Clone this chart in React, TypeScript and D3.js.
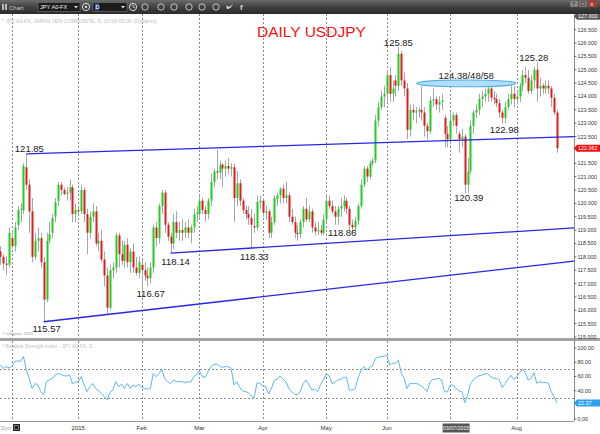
import React from "react";
import * as d3 from "d3";

// ---------- data ----------
const FIRST_DAY = "2014-11-25";
const LAST_DAY = "2015-08-21";

const open = [
  118.2, 118.0, 117.75, 117.7,
  118.7, 118.4, 119.2, 119.75, 119.75, 121.35, 120.7, 119.7, 118.0, 118.6, 118.7, 117.8, 116.4, 118.6, 118.9, 119.5, 120.1, 120.7, 120.5, 120.35, 120.4, 120.6, 119.6,
  119.75, 119.7, 120.5, 119.6, 118.9, 119.5, 119.7, 118.5, 118.6, 117.9, 117.3, 116.1, 117.5, 117.6, 118.8, 118.1, 117.85, 118.45, 117.8, 118.2, 117.6, 117.4,
  117.7, 117.5, 117.3, 117.2, 117.6, 119.1, 118.7, 119.9, 120.4, 119.2, 118.75, 118.5, 119.3, 118.9, 119.0, 118.9, 119.1, 118.9, 119.1, 119.6,
  119.6, 120.1, 119.75, 119.6, 120.1, 120.8, 121.2, 121.15, 121.45, 121.3, 121.4, 121.3, 121.35, 120.2, 120.75, 120.1, 119.75, 119.6, 119.45, 119.15, 119.1, 120.05,
  120.1, 119.65, 119.7, 118.9, 119.3, 120.15, 120.3, 120.55, 120.2, 120.3, 119.5, 119.3, 118.9, 118.85, 119.3, 119.8, 119.4, 119.7, 119.1, 118.95, 119.0, 118.9,
  119.4, 120.1, 119.9, 119.7, 119.5, 119.8, 119.9, 120.1, 119.8, 119.2, 119.1, 119.35, 119.9, 120.7, 121.3, 121.0, 121.5, 121.6, 123.1, 123.6, 124.0,
  124.1, 124.8, 124.1, 124.6, 124.4, 125.6, 124.6, 124.3, 122.75, 123.5, 123.4, 123.45, 123.5, 123.4, 122.9, 122.7, 123.85, 123.9, 123.7, 123.8, 123.2, 122.6,
  122.4, 123.1, 123.3, 122.6, 122.4, 122.5, 120.7, 121.2, 122.9, 123.4, 123.5, 123.9, 124.0, 124.1, 124.3, 123.95, 123.9, 123.75, 123.4, 123.2, 123.6, 123.9, 124.1,
  123.9, 124.0, 124.4, 124.8, 124.7, 124.2, 124.6, 125.0, 124.3, 124.4, 124.3, 124.4, 124.3, 123.95, 123.4,
];
const high = [
  118.4, 118.1, 118.0, 119.1,
  119.0, 119.3, 119.9, 120.0, 121.5, 121.85, 120.9, 120.2, 118.9, 119.1, 118.9, 118.0, 118.9, 119.3, 119.6, 120.2, 120.8, 120.8, 120.6, 120.6, 120.9, 120.7, 120.0,
  119.9, 120.7, 120.6, 119.8, 119.7, 120.0, 119.9, 118.9, 119.0, 118.2, 117.6, 117.7, 117.8, 118.9, 118.9, 118.6, 118.6, 118.7, 118.3, 118.5, 118.0, 118.0,
  117.9, 117.8, 117.6, 117.8, 119.2, 119.3, 120.0, 120.5, 120.5, 119.3, 118.9, 119.6, 119.7, 119.3, 119.4, 119.3, 119.4, 119.2, 119.8, 119.9,
  120.3, 120.2, 119.9, 120.2, 121.1, 121.3, 122.0, 121.6, 121.5, 121.6, 121.7, 121.5, 121.5, 121.2, 120.9, 120.2, 119.9, 119.9, 119.8, 119.6, 120.3, 120.3,
  120.2, 119.9, 119.8, 119.5, 120.3, 120.4, 120.6, 120.7, 120.8, 120.4, 119.8, 119.5, 119.2, 119.4, 119.9, 120.2, 119.9, 119.8, 119.3, 119.3, 119.2, 119.6,
  120.3, 120.3, 120.1, 119.9, 119.9, 120.2, 120.3, 120.2, 119.9, 119.4, 119.5, 120.0, 120.9, 121.4, 121.4, 121.6, 121.7, 123.3, 123.8, 124.2, 124.4,
  125.0, 125.1, 124.6, 124.8, 125.85, 125.7, 124.9, 124.5, 123.7, 123.7, 123.6, 123.6, 124.38, 123.6, 123.0, 124.0, 124.3, 124.0, 124.0, 124.1, 123.3, 122.9,
  123.4, 123.4, 123.4, 122.7, 122.8, 122.6, 121.7, 123.1, 123.5, 123.7, 124.1, 124.2, 124.3, 124.48, 124.4, 124.2, 124.1, 123.9, 123.5, 123.8, 124.1, 124.58, 124.4,
  124.2, 124.5, 125.0, 125.1, 125.0, 124.8, 125.1, 125.28, 124.7, 124.5, 124.6, 124.6, 124.4, 124.1, 123.5,
];
const low = [
  117.7, 117.5, 117.3, 117.6,
  118.3, 118.2, 119.0, 119.3, 119.6, 120.5, 118.9, 117.8, 117.9, 118.2, 117.6, 115.57, 116.3, 118.5, 118.7, 119.3, 119.9, 120.3, 120.3, 120.1, 120.1, 119.3, 119.3,
  119.6, 119.6, 119.3, 118.1, 118.7, 119.3, 118.4, 118.2, 117.8, 116.9, 115.85, 116.0, 117.2, 117.4, 117.6, 117.7, 117.6, 117.6, 117.4, 117.4, 117.3, 117.2,
  116.67, 117.1, 116.9, 117.0, 117.4, 118.4, 118.5, 119.6, 118.9, 118.6, 118.14, 118.3, 118.7, 118.6, 118.6, 118.7, 118.7, 118.5, 118.9, 119.3,
  119.4, 119.6, 119.3, 119.4, 119.9, 120.6, 120.9, 120.9, 120.6, 121.0, 121.1, 121.0, 119.3, 119.9, 119.9, 119.6, 119.4, 119.2, 118.33, 118.9, 119.0, 119.8,
  119.5, 119.4, 118.7, 118.7, 119.2, 119.9, 120.0, 120.0, 120.0, 119.3, 119.2, 118.7, 118.6, 118.7, 119.1, 119.3, 119.3, 118.9, 118.8, 118.8, 118.8, 118.8,
  119.3, 119.8, 119.6, 119.2, 119.2, 119.5, 119.7, 119.6, 119.0, 118.86, 118.9, 119.2, 119.8, 120.6, 120.8, 120.9, 121.4, 121.5, 122.9, 123.5, 123.6,
  123.8, 123.8, 123.8, 124.0, 124.2, 124.4, 124.0, 122.4, 122.5, 123.1, 123.0, 123.2, 123.1, 122.5, 122.4, 122.6, 123.6, 123.5, 123.4, 123.5, 122.1, 122.1,
  122.2, 122.9, 122.6, 121.9, 122.1, 120.39, 120.4, 121.1, 122.6, 123.2, 123.3, 123.6, 123.8, 123.8, 123.8, 123.7, 123.6, 123.2, 122.98, 123.0, 123.5, 123.7, 123.6,
  123.7, 123.8, 124.2, 124.5, 124.1, 124.1, 124.3, 123.8, 124.0, 124.1, 124.1, 124.1, 123.6, 123.3, 121.9,
];
const close = [
  118.0, 117.75, 117.7, 118.9,
  118.4, 119.1, 119.75, 119.8, 121.4, 120.7, 119.7, 118.0, 118.6, 118.7, 117.8, 116.4, 118.6, 118.85, 119.45, 120.05, 120.7, 120.5, 120.35, 120.4, 120.6, 119.6, 119.75,
  119.7, 120.5, 119.6, 118.9, 119.5, 119.7, 118.5, 118.6, 117.9, 117.3, 116.1, 117.5, 117.6, 118.8, 118.1, 117.85, 118.45, 117.8, 118.2, 117.6, 117.4, 117.8,
  117.5, 117.3, 117.2, 117.6, 119.1, 118.7, 119.9, 120.4, 119.2, 118.75, 118.5, 119.3, 118.9, 119.0, 118.9, 119.1, 118.9, 119.1, 119.6, 119.65,
  120.1, 119.75, 119.6, 120.1, 120.8, 121.2, 121.15, 121.45, 121.3, 121.4, 121.3, 121.35, 120.2, 120.75, 120.1, 119.75, 119.6, 119.45, 119.2, 119.1, 120.05, 120.1,
  119.65, 119.7, 118.9, 119.3, 120.2, 120.3, 120.55, 120.2, 120.3, 119.5, 119.3, 118.9, 118.85, 119.3, 119.8, 119.4, 119.7, 119.1, 118.95, 119.0, 118.9, 119.4,
  120.1, 119.9, 119.7, 119.5, 119.8, 119.9, 120.1, 119.8, 119.2, 119.1, 119.35, 119.9, 120.7, 121.3, 121.0, 121.5, 121.6, 123.1, 123.6, 124.0, 124.1,
  124.8, 124.1, 124.3, 124.4, 125.6, 124.6, 124.3, 122.75, 123.5, 123.4, 123.45, 123.5, 123.4, 122.9, 122.7, 123.85, 123.9, 123.7, 123.8, 123.85, 122.6, 122.4,
  123.1, 123.3, 122.9, 122.4, 122.5, 120.7, 121.2, 122.9, 123.4, 123.5, 123.9, 124.0, 124.1, 124.3, 123.95, 123.9, 123.75, 123.4, 123.2, 123.6, 123.9, 124.1, 123.9,
  124.0, 124.4, 124.8, 124.7, 124.2, 124.6, 125.0, 124.3, 124.4, 124.3, 124.4, 124.3, 123.95, 123.4, 122.062,
];
const rsi = [
  76, 71, 74, 72, 74, 81, 82, 81, 88, 69,
  57, 43, 50, 48, 38.5, 34, 53, 55, 57, 62,
  64, 63, 61, 60.5, 62, 50, 51.6, 52.6, 59.6, 48,
  38.5, 45.5, 50, 43, 40, 36, 32, 27, 37.6, 41,
  52.6, 45.5, 49, 43, 50, 43, 48, 45.5, 49, 44.6,
  43, 42, 43, 64, 59.6, 64, 70, 57, 52.6, 50,
  55, 52.6, 52.6, 52.6, 51, 52.6, 51.6, 59.6, 62, 68,
  59.6, 58.7, 66.7, 73.7, 76.5, 77.5, 74.6, 72.8, 73.7, 73.7,
  71.4, 48, 52.6, 44.6, 39.4, 38.5, 37.1, 32.4, 30, 51,
  50, 46.5, 45.5, 35.2, 43, 55, 55.9, 60.6, 55.9, 52.6,
  43, 38.5, 35.2, 33.8, 39, 50, 55, 48, 41, 42,
  38.5, 48, 55, 64, 60.6, 50, 51.6, 55, 56, 58.7,
  58.7, 40.8, 40.8, 42.7, 57.3, 68, 73.7, 69, 72.8, 74.6,
  85.4, 86.9, 87.8, 88.7, 89.7, 76, 78.4, 78.4, 83, 64.3,
  57, 43, 50, 49.8, 50, 49, 46.5, 43, 38.5, 52.6,
  55.9, 56.3, 57.3, 55, 38.5, 38, 47.9, 47.9, 43, 39.4,
  38.5, 23, 33.8, 50, 55, 58.7, 61, 62, 63.4, 64.3,
  59.6, 57.3, 57.3, 54.9, 44.6, 50, 55.9, 61.5, 55.9, 58.7,
  65.3, 70, 65.3, 54.9, 57.3, 65.3, 50.2, 52.6, 51.2, 51.6,
  50.2, 38.5, 31.5, 22.37,
];

const priceTicks = [115, 115.5, 116, 116.5, 117, 117.5, 118, 118.5, 119, 119.5, 120, 120.5, 121, 121.5, 122, 122.5, 123, 123.5, 124, 124.5, 125, 125.5, 126, 126.5];
const topPrice = 127;
const rsiTicks = [0, 20, 40, 60, 80, 100];
const rsiBands = [30, 70];
const lastPrice = 122.062;
const lastRsi = 22.37;
const cursorDay = "2015-07-03";
const cursorText = "03/07/2015";

const trendFromDay = ["2014-12-08", "2015-02-16", "2014-12-16"];
const trendFromPrice = [121.85, 118.14, 115.57];
const trendEdgePrice = [122.5, 119.08, 117.84];

const noteDay = ["2014-12-08", "2014-12-16", "2015-02-02", "2015-02-16", "2015-03-26", "2015-05-14", "2015-06-05", "2015-07-08", "2015-07-27", "2015-08-12"];
const notePrice = [121.85, 115.57, 116.67, 118.14, 118.33, 118.86, 125.85, 120.39, 122.98, 125.28];
const noteText = ["121.85", "115.57", "116.67", "118.14", "118.33", "118.86", "125.85", "120.39", "122.98", "125.28"];
// layout offsets (px) of each note relative to its anchor
const noteDx = [3, 3, 9, 5, 3, -10, 0, 4, 2, -3];
const noteDy = [-2, 10, 5, 12, 12, 2, -1, 8, 9, -1];

const zoneFrom = "2015-06-17";
const zoneTo = "2015-07-30";
const zonePrice = 124.49;
const zoneText = "124.38/48/58";
const title = "DAILY USDJPY";

// ---------- layout ----------
const W = 600;
const H = 434;
const AXIS_X = 574;
const MAIN_TOP = 14;
const MAIN_BOTTOM = 338;
const RSI_TOP = 341;
const RSI_BOTTOM = 421;
const FONT = "'Liberation Sans', Arial, Helvetica, sans-serif";
const UP = "#1ccf1c";
const DOWN = "#e01b1b";
const WICK = "#a6a6a6";
const BLUE = "#2626e6";

const parse = d3.timeParse("%Y-%m-%d");

function Toolbar() {
  const icons = [145, 161, 174, 189, 202, 216];
  return (
    <g>
      <defs>
        <linearGradient id="tb" x1="0" y1="0" x2="0" y2="1">
          <stop offset="0" stopColor="#6b6b6b" />
          <stop offset="0.5" stopColor="#404040" />
          <stop offset="1" stopColor="#2b2b2b" />
        </linearGradient>
      </defs>
      <rect x={0} y={0} width={W} height={MAIN_TOP} fill="url(#tb)" />
      <rect x={2} y={4} width={2} height={6} fill="#bbb" />
      <rect x={5} y={4} width={2} height={6} fill="#bbb" />
      <text x={9} y={9.5} fontSize={6} fill="#d0d0d0" fontFamily={FONT}>Chart</text>
      <rect x={38} y={2.5} width={42} height={9} fill="#1c1c1c" stroke="#777" strokeWidth={0.6} />
      <text x={40} y={9.3} fontSize={5.6} fill="#f2f2f2" fontFamily={FONT}>JPY A0-FX</text>
      <path d="M74,6 L78,6 L76,8.5 Z" fill="#ddd" />
      <circle cx={86} cy={7} r={3.6} fill="none" stroke="#ddd" strokeWidth={1} />
      <circle cx={86} cy={7} r={1.2} fill="#ddd" />
      <rect x={93} y={2.5} width={34} height={9} fill="#1c1c1c" stroke="#777" strokeWidth={0.6} />
      <rect x={95} y={3.5} width={4} height={7} fill="#2c5a9c" />
      <text x={95.5} y={9.3} fontSize={5.6} fill="#fff" fontFamily={FONT}>D</text>
      <path d="M121,6 L125,6 L123,8.5 Z" fill="#ddd" />
      <circle cx={133} cy={7} r={3.6} fill="none" stroke="#ddd" strokeWidth={1} />
      <path d="M133,4.8 L133,7 L135,7.8" stroke="#ddd" fill="none" strokeWidth={0.8} />
      {icons.map((cx, k) => (
        <circle key={k} cx={cx} cy={7} r={3.2} fill="none" stroke="#cfcfcf" strokeWidth={0.9} />
      ))}
      <path d="M226,5 Q229,9 233,4 Q231,9 227,9 Z" fill="#d8d8d8" />
      <text x={240} y={10} fontSize={8} fontWeight="bold" fill="#d8d8d8" fontFamily={FONT}>f</text>
      <rect x={570} y={0.5} width={8} height={6.5} fill="#8a8a8a" stroke="#555" strokeWidth={0.5} />
      <text x={572.3} y={5.9} fontSize={5} fill="#222" fontFamily={FONT}>?</text>
      <rect x={579} y={0.5} width={8} height={6.5} fill="#8a8a8a" stroke="#555" strokeWidth={0.5} />
      <rect x={581} y={2} width={4} height={3.5} fill="none" stroke="#222" strokeWidth={0.6} />
      <rect x={588} y={0.5} width={9} height={6.5} fill="#b03a2e" stroke="#555" strokeWidth={0.5} />
      <text x={590.5} y={5.9} fontSize={5.5} fill="#fff" fontFamily={FONT}>x</text>
    </g>
  );
}

export default function App() {
  const days = d3
    .timeDay.range(parse(FIRST_DAY) as Date, d3.timeDay.offset(parse(LAST_DAY) as Date, 1))
    .filter((d) => d.getDay() % 6 !== 0);
  const idxOf = (s: string) => {
    const t = +(parse(s) as Date);
    return days.findIndex((d) => +d === t);
  };

  const x = d3.scaleLinear().domain([0, days.length - 1]).range([0.4, 557]);
  const y = d3.scaleLinear().domain([115, 126]).range([337, 43]);
  const yr = d3.scaleLinear().domain([0, 100]).range([419, 348]);

  const monthIdx = days
    .map((d, i) => (i > 0 && d.getMonth() !== days[i - 1].getMonth() ? i : -1))
    .filter((i) => i >= 0);
  const monthLabel = (d: Date) => (d.getMonth() === 0 ? d3.timeFormat("%Y")(d) : d3.timeFormat("%b")(d));
  const cursorDate = parse(cursorDay) as Date;

  const rsiLine = d3
    .line<number>()
    .x((_, i) => x(i))
    .y((v) => yr(v));

  const f3 = d3.format(".3f");
  const f2 = d3.format(".2f");

  const zoneA = x(idxOf(zoneFrom));
  const zoneB = x(idxOf(zoneTo));
  const cursorX = x(idxOf(cursorDay));

  // axis labels hidden under the value markers
  const shownPriceTicks = priceTicks.filter((v) => Math.abs(y(v) - y(lastPrice)) > 6);
  const shownRsiTicks = rsiTicks.filter((v) => Math.abs(yr(v) - yr(lastRsi)) > 6);

  const marker = (cy: number) =>
    `M${AXIS_X},${cy} L${AXIS_X + 3},${cy - 3.5} L${W},${cy - 3.5} L${W},${cy + 3.5} L${AXIS_X + 3},${cy + 3.5} Z`;

  return (
    <svg
      width={W}
      height={H}
      viewBox={`0 0 ${W} ${H}`}
      style={{ position: "absolute", left: 0, top: 0, display: "block", background: "#fff" }}
      fontFamily={FONT}
    >
      <rect x={0} y={0} width={W} height={H} fill="#fff" />

      {/* month grid lines */}
      {monthIdx.map((i) => {
        const gx = Math.round(x(i)) + 0.5;
        return (
          <g key={"g" + i}>
            <line x1={gx} x2={gx} y1={MAIN_TOP} y2={MAIN_BOTTOM} stroke="#8c8c8c" strokeDasharray="2,2" />
            <line x1={gx} x2={gx} y1={RSI_TOP} y2={RSI_BOTTOM} stroke="#8c8c8c" strokeDasharray="2,2" />
          </g>
        );
      })}

      {/* header texts */}
      <text x={2} y={22.5} fontSize={5.2} fill="#bdbdbd">* JPY A0-FX, JAPAN YEN COMPOSITE, D, 00:00-00:00 (Dynamic)</text>
      <text x={257} y={37} fontSize={15.5} fill="#ff1010">{title}</text>

      {/* candles */}
      {days.map((_, i) => {
        const cx = Math.round(x(i));
        const o = open[i];
        const c = close[i];
        const top = y(Math.max(o, c));
        const bot = y(Math.min(o, c));
        return (
          <g key={"c" + i}>
            <line x1={cx + 0.5} x2={cx + 0.5} y1={y(high[i])} y2={y(low[i])} stroke={WICK} strokeWidth={1} />
            <rect x={cx - 0.5} y={top} width={2} height={Math.max(1, bot - top)} fill={c >= o ? UP : DOWN} />
          </g>
        );
      })}

      {/* trend lines */}
      {trendFromDay.map((d, k) => (
        <line
          key={"t" + k}
          x1={x(idxOf(d))}
          y1={y(trendFromPrice[k])}
          x2={AXIS_X}
          y2={y(trendEdgePrice[k])}
          stroke={BLUE}
          strokeWidth={1.3}
        />
      ))}

      {/* resistance zone */}
      <ellipse
        cx={(zoneA + zoneB) / 2}
        cy={y(zonePrice)}
        rx={(zoneB - zoneA) / 2 + 5}
        ry={3.4}
        fill="#b3defa"
        stroke="#4eaee8"
        strokeWidth={1.1}
      />
      <text x={(zoneA + zoneB) / 2} y={y(zonePrice) - 4.5} fontSize={9.5} fill="#1a1a1a" textAnchor="middle">
        {zoneText}
      </text>

      {/* notes */}
      {noteDay.map((d, k) => (
        <text
          key={"n" + k}
          x={x(idxOf(d)) + noteDx[k]}
          y={y(notePrice[k]) + noteDy[k]}
          fontSize={9.5}
          fill="#1a1a1a"
          textAnchor="middle"
        >
          {noteText[k]}
        </text>
      ))}

      <text x={2} y={335} fontSize={4.4} fill="#9a9a9a">© eSignal, 2015</text>

      {/* panel separator */}
      <rect x={0} y={MAIN_BOTTOM} width={W} height={RSI_TOP - MAIN_BOTTOM} fill="#a3a3a3" />

      {/* RSI panel */}
      <text x={2} y={347.5} fontSize={5} fill="#bdbdbd">* Relative Strength Index - JPY A0-FX, D</text>
      {rsiBands.map((b) => (
        <line key={"b" + b} x1={0} x2={AXIS_X} y1={Math.round(yr(b)) + 0.5} y2={Math.round(yr(b)) + 0.5} stroke="#8c8c8c" strokeDasharray="2,2" />
      ))}
      <path d={rsiLine(rsi) || ""} fill="none" stroke="#5cb8f2" strokeWidth={1} />

      {/* bottom axis strip */}
      <line x1={0} x2={W} y1={RSI_BOTTOM + 0.5} y2={RSI_BOTTOM + 0.5} stroke="#9a9a9a" />
      {monthIdx.map((i) =>
        days[i].getMonth() === 11 || days[i].getMonth() === cursorDate.getMonth() ? null : (
          <text key={"m" + i} x={x(i)} y={430} fontSize={6} fill="#333" textAnchor="middle">
            {monthLabel(days[i])}
          </text>
        )
      )}
      <rect x={cursorX - 13.5} y={423.5} width={27} height={9} fill="#555" />
      <text x={cursorX} y={430.2} fontSize={5.3} fill="#fff" textAnchor="middle">{cursorText}</text>
      <text x={1} y={430} fontSize={5.5} fill="#9a9a9a">Dyn</text>
      <rect x={13} y={424} width={7} height={7} fill="#222" />
      <rect x={14.5} y={425.5} width={4} height={4} fill="none" stroke="#aaa" strokeWidth={0.6} />

      {/* right axis */}
      <rect x={AXIS_X} y={MAIN_TOP} width={W - AXIS_X} height={H - MAIN_TOP} fill="#fff" />
      <rect x={AXIS_X} y={MAIN_BOTTOM} width={W - AXIS_X} height={RSI_TOP - MAIN_BOTTOM} fill="#a3a3a3" />
      <line x1={AXIS_X + 0.5} x2={AXIS_X + 0.5} y1={MAIN_TOP} y2={RSI_BOTTOM} stroke="#8a8a8a" />
      {shownPriceTicks.map((v) => (
        <g key={"p" + v}>
          <line x1={AXIS_X} x2={AXIS_X + 2.5} y1={y(v)} y2={y(v)} stroke="#555" strokeWidth={0.8} />
          <text x={AXIS_X + 3.5} y={y(v) + 2} fontSize={5.4} fill="#333">{f3(v)}</text>
        </g>
      ))}
      {shownRsiTicks.map((v) => (
        <g key={"r" + v}>
          <line x1={AXIS_X} x2={AXIS_X + 2.5} y1={yr(v)} y2={yr(v)} stroke="#555" strokeWidth={0.8} />
          <text x={AXIS_X + 3.5} y={yr(v) + 2} fontSize={5.4} fill="#333">{f2(v)}</text>
        </g>
      ))}
      {/* last price marker */}
      <path d={marker(y(lastPrice))} fill="#f01010" />
      <text x={AXIS_X + 4} y={y(lastPrice) + 2} fontSize={5.4} fill="#fff">{f3(lastPrice)}</text>
      {/* last RSI marker */}
      <path d={marker(yr(lastRsi))} fill="#2f9ff0" />
      <text x={AXIS_X + 4} y={yr(lastRsi) + 2} fontSize={5.4} fill="#fff">{f2(lastRsi)}</text>
      {/* top of scale marker */}
      <path d={marker(y(topPrice))} fill="#5a5a5a" />
      <text x={AXIS_X + 4} y={y(topPrice) + 2} fontSize={5.4} fill="#fff">{f3(topPrice)}</text>

      <Toolbar />
    </svg>
  );
}
